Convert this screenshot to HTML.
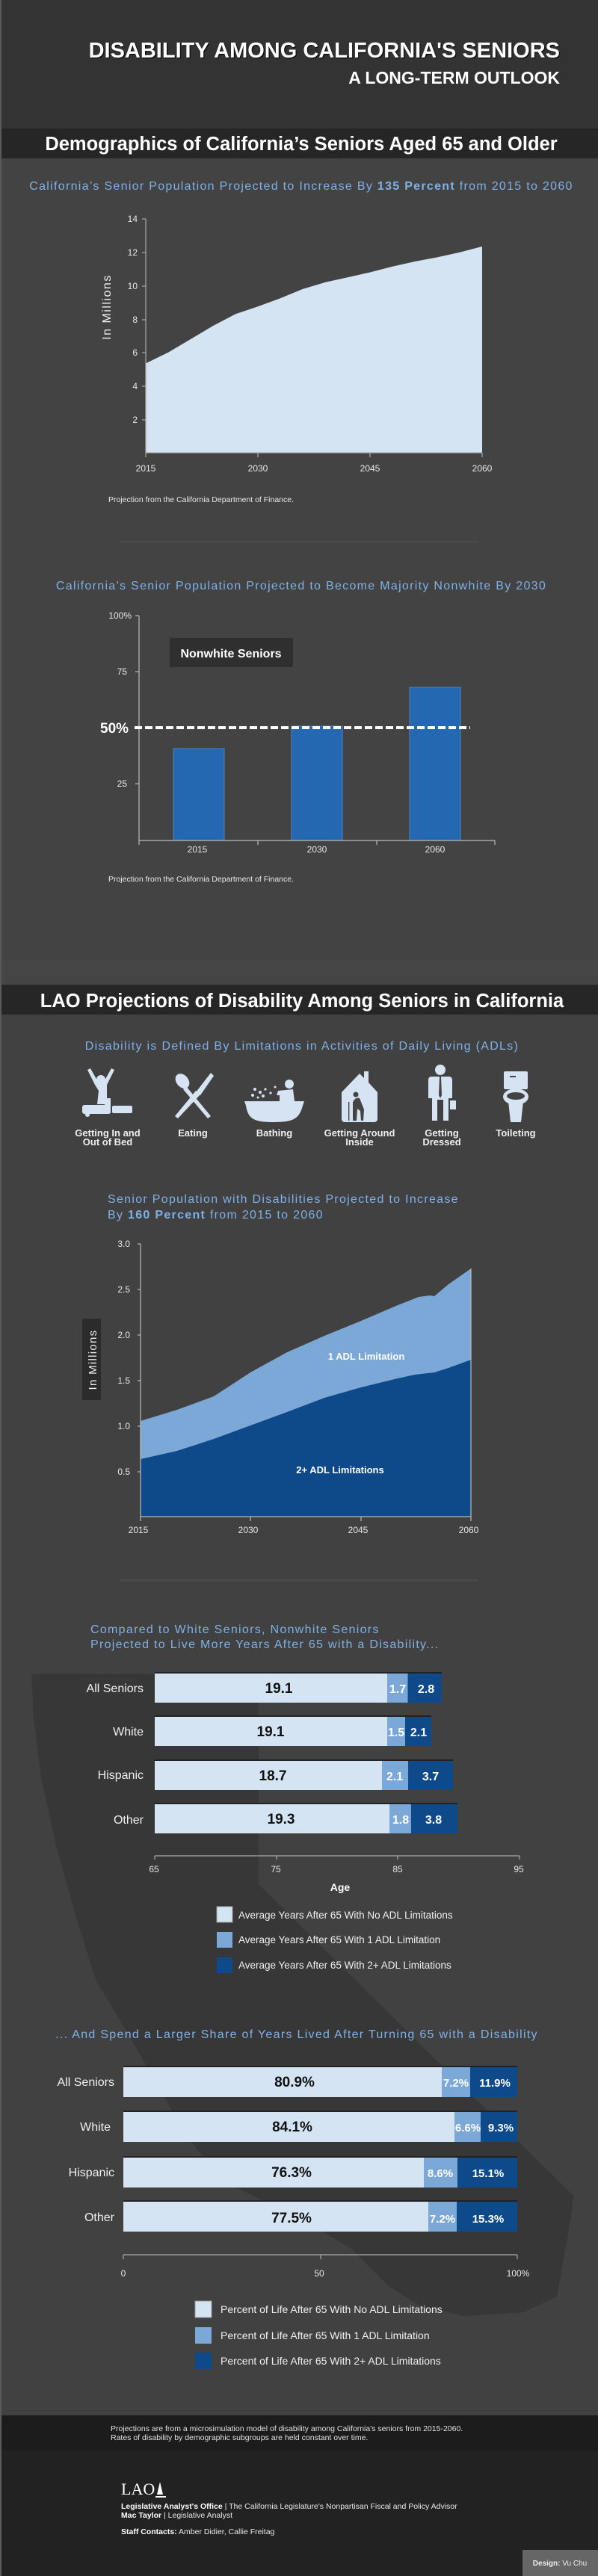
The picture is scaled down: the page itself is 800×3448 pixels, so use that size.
<!DOCTYPE html>
<html><head><meta charset="utf-8"><style>
html,body{margin:0;padding:0;background:#414141;}
svg{display:block;}
text{font-family:"Liberation Sans",sans-serif;}
.t{fill:#7fb0e6;font-size:16px;letter-spacing:1.3px;}
.ax{fill:#e8e8e8;font-size:12px;}
.lab{fill:#f0f0f0;font-size:16px;}
.v{font-size:19px;font-weight:bold;text-anchor:middle;}
.ic{fill:#d5e3f2;}
.il{fill:#eeeeee;font-size:13px;font-weight:bold;text-anchor:middle;}
</style></head><body>
<svg width="800" height="3448" viewBox="0 0 800 3448" xmlns="http://www.w3.org/2000/svg">
<!-- backgrounds -->
<rect x="0" y="0" width="800" height="3448" fill="#414141"/>
<rect x="0" y="0" width="800" height="172" fill="#333333"/>
<rect x="0" y="172" width="800" height="40" fill="#262626"/>
<rect x="0" y="212" width="800" height="1073" fill="#434343"/>
<rect x="0" y="1285" width="800" height="33" fill="#454545"/>
<rect x="0" y="1318" width="800" height="40" fill="#262626"/>
<!-- California silhouette -->
<path d="M42 2241 L346 2241 L346 2522 L768 2940 L760 2990 L745 3074 L700 3095 L620 3100 L560 3085 L520 3060 L470 3010 L420 2980 L360 2950 L300 2920 L250 2860 L210 2790 L170 2720 L128 2650 L100 2560 L75 2470 L55 2380 L45 2300 Z" fill="#373737"/>
<rect x="0" y="3233" width="800" height="47" fill="#1c1c1c"/>
<rect x="0" y="3280" width="800" height="168" fill="#222222"/>
<rect x="0" y="0" width="2" height="3448" fill="#5a5a5a"/>

<!-- header -->
<text x="749" y="77" text-anchor="end" fill="#fff" font-size="29" font-weight="bold" style="text-shadow:1px 1px 1px #000">DISABILITY AMONG CALIFORNIA'S SENIORS</text>
<text x="749" y="112" text-anchor="end" fill="#fff" font-size="23" font-weight="bold">A LONG-TERM OUTLOOK</text>
<text x="403" y="201" text-anchor="middle" fill="#fff" font-size="25.5" font-weight="bold">Demographics of California’s Seniors Aged 65 and Older</text>

<!-- chart 1 -->
<text x="403" y="254" text-anchor="middle" class="t" font-size="16" letter-spacing="1.1">California’s Senior Population Projected to Increase By <tspan font-weight="bold">135 Percent</tspan> from 2015 to 2060</text>
<path d="M195 606 L195 486.4 L225 471.8 L255 454 L285 436.1 L315 420.4 L345 410.3 L375 399.2 L405 386.9 L435 377.9 L465 371.2 L495 364.5 L525 356.7 L555 350 L585 344.4 L615 337.7 L645 329.9 L645 606 Z" fill="#d5e4f3"/>
<g stroke="#aaa" stroke-width="1.2">
<line x1="195" y1="293" x2="195" y2="606"/><line x1="195" y1="606" x2="645" y2="606"/>
<line x1="190" y1="293" x2="195" y2="293"/><line x1="190" y1="338" x2="195" y2="338"/><line x1="190" y1="383" x2="195" y2="383"/><line x1="190" y1="428" x2="195" y2="428"/><line x1="190" y1="472" x2="195" y2="472"/><line x1="190" y1="517" x2="195" y2="517"/><line x1="190" y1="562" x2="195" y2="562"/>
<line x1="195" y1="606" x2="195" y2="612"/><line x1="345" y1="606" x2="345" y2="612"/><line x1="495" y1="606" x2="495" y2="612"/><line x1="645" y1="606" x2="645" y2="612"/>
</g>
<g class="ax" text-anchor="end"><text x="184" y="297">14</text><text x="184" y="342">12</text><text x="184" y="387">10</text><text x="184" y="432">8</text><text x="184" y="476">6</text><text x="184" y="521">4</text><text x="184" y="566">2</text></g>
<g class="ax" text-anchor="middle"><text x="195" y="631">2015</text><text x="345" y="631">2030</text><text x="495" y="631">2045</text><text x="645" y="631">2060</text></g>
<text transform="translate(148,411) rotate(-90)" text-anchor="middle" fill="#eee" font-size="16" letter-spacing="1.5">In Millions</text>
<text x="145" y="672" fill="#e8e8e8" font-size="10.5">Projection from the California Department of Finance.</text>
<line x1="160" y1="725" x2="640" y2="725" stroke="#4f4f4f" stroke-width="1.5"/>

<!-- chart 2 -->
<text x="403" y="789" text-anchor="middle" class="t" font-size="16.5">California’s Senior Population Projected to Become Majority Nonwhite By 2030</text>
<rect x="232" y="1002" width="68" height="123" fill="#2368b0" stroke="#4a84c4" stroke-width="1"/>
<rect x="390" y="972" width="68" height="153" fill="#2368b0" stroke="#4a84c4" stroke-width="1"/>
<rect x="548" y="920" width="68" height="205" fill="#2368b0" stroke="#4a84c4" stroke-width="1"/>
<g stroke="#bbb" stroke-width="1.2">
<line x1="186" y1="824" x2="186" y2="1125"/><line x1="186" y1="1125" x2="662" y2="1125"/>
<line x1="181" y1="824" x2="186" y2="824"/><line x1="181" y1="899" x2="186" y2="899"/><line x1="181" y1="1049" x2="186" y2="1049"/>
<line x1="186" y1="1125" x2="186" y2="1131"/><line x1="345" y1="1125" x2="345" y2="1131"/><line x1="504" y1="1125" x2="504" y2="1131"/><line x1="662" y1="1125" x2="662" y2="1131"/>
</g>
<g class="ax" text-anchor="end"><text x="176" y="828">100%</text><text x="170" y="903">75</text><text x="170" y="1053">25</text></g>
<g class="ax" text-anchor="middle"><text x="264" y="1141">2015</text><text x="424" y="1141">2030</text><text x="582" y="1141">2060</text></g>
<line x1="180" y1="974" x2="629" y2="974" stroke="#fff" stroke-width="4" stroke-dasharray="10,4"/>
<text x="134" y="981" fill="#fff" font-size="19" font-weight="bold">50%</text>
<rect x="227" y="854" width="165" height="39" fill="#2f2f2f" rx="2"/>
<text x="309" y="880" text-anchor="middle" fill="#fff" font-size="16" font-weight="bold">Nonwhite Seniors</text>
<text x="145" y="1180" fill="#e8e8e8" font-size="10.5">Projection from the California Department of Finance.</text>

<!-- section 2 -->
<text x="404" y="1348" text-anchor="middle" fill="#fff" font-size="25.5" font-weight="bold">LAO Projections of Disability Among Seniors in California</text>
<text x="404" y="1405" text-anchor="middle" class="t">Disability is Defined By Limitations in Activities of Daily Living (ADLs)</text>

<!-- icons -->
<g class="ic">
 <!-- bed -->
 <circle cx="135" cy="1445" r="6"/>
 <path d="M117 1432 L121 1430 L131 1448 L139 1448 L149 1430 L153 1432 L143 1452 L143 1470 L148 1470 L148 1490 L140 1490 L140 1478 L130 1478 L132 1460 L127 1452 Z"/>
 <rect x="110" y="1479" width="38" height="12" rx="3"/>
 <rect x="150" y="1480" width="27" height="10" rx="2"/>
 <circle cx="117" cy="1492" r="3"/>
 <!-- eating -->
 <ellipse cx="244" cy="1447" rx="8" ry="11" transform="rotate(-40 244 1447)"/>
 <path d="M249 1454 L282 1494 L278 1497 L245 1458 Z"/>
 <path d="M282 1436 L262 1462 L268 1466 L286 1440 Z"/>
 <path d="M262 1460 L234 1494 L238 1497 L268 1465 Z"/>
 <!-- bathing -->
 <circle cx="387" cy="1451" r="6"/>
 <path d="M372 1460 L392 1458 L394 1474 L374 1474 L374 1466 L370 1466 Z"/>
 <path d="M327 1474 L407 1474 L405 1480 C400 1498 392 1502 366 1502 C340 1502 332 1498 329 1480 Z"/>
 <circle cx="341" cy="1458" r="2"/><circle cx="348" cy="1462" r="2"/><circle cx="338" cy="1466" r="2"/><circle cx="355" cy="1458" r="1.6"/><circle cx="352" cy="1467" r="2"/><circle cx="362" cy="1463" r="1.6"/><circle cx="368" cy="1455" r="1.5"/><circle cx="345" cy="1469" r="1.5"/>
 <!-- house -->
 <path d="M457 1462 L481 1437 L487 1443 L487 1434 L493 1434 L493 1449 L505 1462 L505 1498 C505 1500 503 1502 501 1502 L461 1502 C459 1502 457 1500 457 1498 Z"/>
 <!-- dressed -->
 <circle cx="589" cy="1432" r="7"/>
 <path d="M577 1441 L601 1441 Q605 1441 605 1446 L605 1470 L600 1470 L600 1500 L593 1500 L593 1472 L585 1472 L585 1500 L578 1500 L578 1470 L573 1470 L573 1446 Q573 1441 577 1441 Z"/>
 <rect x="602" y="1473" width="8" height="12"/>
 <!-- toilet -->
 <rect x="674" y="1434" width="32" height="24" rx="2"/>
 <ellipse cx="690" cy="1468" rx="17" ry="11"/>
 <path d="M680 1474 L700 1474 L697 1502 L683 1502 Z"/>
</g>
<g fill="#434343">
 <path d="M472 1500 L472 1475 Q476 1468 481 1470 L487 1485 L486 1500 L483 1500 L482 1487 L478 1484 L477 1500 Z"/>
 <circle cx="476" cy="1465" r="3.5"/>
 <rect x="466" y="1475" width="1.4" height="25"/>
 <path d="M588 1441 L590 1441 L591 1466 L589 1470 L587 1466 Z"/>
 <ellipse cx="690" cy="1467" rx="12" ry="5"/>
 <rect x="682" y="1440" width="8" height="2"/>
</g>
<g class="il">
 <text x="144" y="1521">Getting In and</text><text x="144" y="1533">Out of Bed</text>
 <text x="258" y="1521">Eating</text>
 <text x="367" y="1521">Bathing</text>
 <text x="481" y="1521">Getting Around</text><text x="481" y="1533">Inside</text>
 <text x="591" y="1521">Getting</text><text x="591" y="1533">Dressed</text>
 <text x="690" y="1521">Toileting</text>
</g>

<!-- chart 3 -->
<text x="144" y="1610" class="t">Senior Population with Disabilities Projected to Increase</text>
<text x="144" y="1631" class="t">By <tspan font-weight="bold">160 Percent</tspan> from 2015 to 2060</text>
<path d="M188 2030 L188 1902 L237 1887 L286 1869 L335 1837 L384 1810 L434 1788 L483 1768 L532 1747 L560 1736 L575 1734 L581 1735 L600 1719 L630 1698 L630 2030 Z" fill="#7ba8d7"/>
<path d="M188 2030 L188 1953 L237 1942 L286 1926 L335 1908 L384 1890 L434 1871 L483 1857 L532 1845 L555 1840 L581 1837 L600 1831 L630 1820 L630 2030 Z" fill="#0e4a8a"/>
<g stroke="#bbb" stroke-width="1.2">
<line x1="188" y1="1665" x2="188" y2="2030"/><line x1="630" y1="1698" x2="630" y2="2030"/><line x1="188" y1="2030" x2="630" y2="2030"/>
<line x1="184" y1="1665" x2="188" y2="1665"/><line x1="184" y1="1726" x2="188" y2="1726"/><line x1="184" y1="1787" x2="188" y2="1787"/><line x1="184" y1="1848" x2="188" y2="1848"/><line x1="184" y1="1909" x2="188" y2="1909"/><line x1="184" y1="1970" x2="188" y2="1970"/>
<line x1="188" y1="2030" x2="188" y2="2036"/><line x1="335" y1="2030" x2="335" y2="2036"/><line x1="483" y1="2030" x2="483" y2="2036"/><line x1="630" y1="2030" x2="630" y2="2036"/>
</g>
<g class="ax" text-anchor="end"><text x="174" y="1669">3.0</text><text x="174" y="1730">2.5</text><text x="174" y="1791">2.0</text><text x="174" y="1852">1.5</text><text x="174" y="1913">1.0</text><text x="174" y="1974">0.5</text></g>
<g class="ax" text-anchor="middle"><text x="185" y="2052">2015</text><text x="332" y="2052">2030</text><text x="479" y="2052">2045</text><text x="627" y="2052">2060</text></g>
<rect x="110" y="1765" width="25" height="109" fill="#2b2b2b" rx="2"/>
<text transform="translate(129,1820) rotate(-90)" text-anchor="middle" fill="#eee" font-size="15" letter-spacing="1.3">In Millions</text>
<text x="490" y="1820" text-anchor="middle" fill="#fff" font-size="13" font-weight="bold">1 ADL Limitation</text>
<text x="455" y="1972" text-anchor="middle" fill="#fff" font-size="13" font-weight="bold">2+ ADL Limitations</text>
<line x1="160" y1="2115" x2="640" y2="2115" stroke="#4f4f4f" stroke-width="1.5"/>

<!-- chart 4 -->
<text x="121" y="2186" class="t" letter-spacing="1">Compared to White Seniors, Nonwhite Seniors</text>
<text x="121" y="2206" class="t" letter-spacing="1">Projected to Live More Years After 65 with a Disability...</text>
<g>
<rect x="207" y="2238" width="384" height="2" fill="#222"/>
<rect x="207" y="2240" width="311" height="39" fill="#d5e4f3"/><rect x="518" y="2240" width="27.5" height="39" fill="#7ba8d7"/><rect x="545.5" y="2240" width="45.5" height="39" fill="#0e4a8a"/>
<rect x="207" y="2296" width="370" height="2" fill="#222"/>
<rect x="207" y="2298" width="311" height="39" fill="#d5e4f3"/><rect x="518" y="2298" width="24" height="39" fill="#7ba8d7"/><rect x="542" y="2298" width="35" height="39" fill="#0e4a8a"/>
<rect x="207" y="2355" width="399" height="2" fill="#222"/>
<rect x="207" y="2357" width="304" height="39" fill="#d5e4f3"/><rect x="511" y="2357" width="35" height="39" fill="#7ba8d7"/><rect x="546" y="2357" width="60" height="39" fill="#0e4a8a"/>
<rect x="207" y="2413" width="405" height="2" fill="#222"/>
<rect x="207" y="2415" width="314" height="39" fill="#d5e4f3"/><rect x="521" y="2415" width="29" height="39" fill="#7ba8d7"/><rect x="550" y="2415" width="62" height="39" fill="#0e4a8a"/>
</g>
<g class="lab" text-anchor="end"><text x="192" y="2265">All Seniors</text><text x="192" y="2323">White</text><text x="192" y="2381">Hispanic</text><text x="192" y="2441">Other</text></g>
<g class="v">
<text x="373" y="2266" fill="#111">19.1</text><text x="532" y="2266" fill="#fff" font-size="16">1.7</text><text x="570" y="2266" fill="#fff" font-size="16">2.8</text>
<text x="362" y="2324" fill="#111">19.1</text><text x="530" y="2324" fill="#fff" font-size="16">1.5</text><text x="560" y="2324" fill="#fff" font-size="16">2.1</text>
<text x="365" y="2383" fill="#111">18.7</text><text x="528" y="2383" fill="#fff" font-size="16">2.1</text><text x="576" y="2383" fill="#fff" font-size="16">3.7</text>
<text x="376" y="2441" fill="#111">19.3</text><text x="536" y="2441" fill="#fff" font-size="16">1.8</text><text x="580" y="2441" fill="#fff" font-size="16">3.8</text>
</g>
<g stroke="#aaa" stroke-width="1.2">
<line x1="207" y1="2484" x2="695" y2="2484"/>
<line x1="207" y1="2484" x2="207" y2="2489"/><line x1="370" y1="2484" x2="370" y2="2489"/><line x1="532" y1="2484" x2="532" y2="2489"/><line x1="695" y1="2484" x2="695" y2="2489"/>
</g>
<g class="ax" text-anchor="middle"><text x="206" y="2506">65</text><text x="369" y="2506">75</text><text x="532" y="2506">85</text><text x="694" y="2506">95</text></g>
<text x="455" y="2531" text-anchor="middle" fill="#fff" font-size="14" font-weight="bold">Age</text>
<rect x="290" y="2552" width="21" height="21" fill="#d5e4f3" stroke="#999"/>
<rect x="290" y="2586" width="21" height="21" fill="#7ba8d7"/>
<rect x="290" y="2620" width="21" height="21" fill="#0e4a8a"/>
<g fill="#f0f0f0" font-size="13.5"><text x="319" y="2568">Average Years After 65 With No ADL Limitations</text><text x="319" y="2601">Average Years After 65 With 1 ADL Limitation</text><text x="319" y="2635">Average Years After 65 With 2+ ADL Limitations</text></g>

<!-- chart 5 -->
<text x="397" y="2728" text-anchor="middle" class="t" letter-spacing="1.5">... And Spend a Larger Share of Years Lived After Turning 65 with a Disability</text>
<g>
<rect x="165" y="2765" width="527" height="2" fill="#222"/>
<rect x="165" y="2767" width="426" height="40" fill="#d5e4f3"/><rect x="591" y="2767" width="38" height="40" fill="#7ba8d7"/><rect x="629" y="2767" width="63" height="40" fill="#0e4a8a"/>
<rect x="165" y="2825" width="527" height="2" fill="#222"/>
<rect x="165" y="2827" width="443" height="40" fill="#d5e4f3"/><rect x="608" y="2827" width="35" height="40" fill="#7ba8d7"/><rect x="643" y="2827" width="49" height="40" fill="#0e4a8a"/>
<rect x="165" y="2886" width="527" height="2" fill="#222"/>
<rect x="165" y="2888" width="402" height="40" fill="#d5e4f3"/><rect x="567" y="2888" width="45" height="40" fill="#7ba8d7"/><rect x="612" y="2888" width="80" height="40" fill="#0e4a8a"/>
<rect x="165" y="2945" width="527" height="2" fill="#222"/>
<rect x="165" y="2947" width="408" height="40" fill="#d5e4f3"/><rect x="573" y="2947" width="38" height="40" fill="#7ba8d7"/><rect x="611" y="2947" width="81" height="40" fill="#0e4a8a"/>
</g>
<g class="lab" text-anchor="end"><text x="153" y="2792">All Seniors</text><text x="148" y="2852">White</text><text x="153" y="2913">Hispanic</text><text x="153" y="2973">Other</text></g>
<g class="v">
<text x="394" y="2793" fill="#111">80.9%</text><text x="610" y="2793" fill="#fff" font-size="15">7.2%</text><text x="662" y="2793" fill="#fff" font-size="15">11.9%</text>
<text x="391" y="2853" fill="#111">84.1%</text><text x="626" y="2853" fill="#fff" font-size="15">6.6%</text><text x="670" y="2853" fill="#fff" font-size="15">9.3%</text>
<text x="390" y="2914" fill="#111">76.3%</text><text x="589" y="2914" fill="#fff" font-size="15">8.6%</text><text x="653" y="2914" fill="#fff" font-size="15">15.1%</text>
<text x="390" y="2975" fill="#111">77.5%</text><text x="592" y="2975" fill="#fff" font-size="15">7.2%</text><text x="653" y="2975" fill="#fff" font-size="15">15.3%</text>
</g>
<g stroke="#aaa" stroke-width="1.2">
<line x1="165" y1="3018" x2="692" y2="3018"/>
<line x1="165" y1="3018" x2="165" y2="3024"/><line x1="429" y1="3018" x2="429" y2="3024"/><line x1="692" y1="3018" x2="692" y2="3024"/>
</g>
<g class="ax" text-anchor="middle" font-size="13"><text x="165" y="3047">0</text><text x="427" y="3047">50</text><text x="693" y="3047">100%</text></g>
<rect x="261" y="3080" width="22" height="22" fill="#d5e4f3" stroke="#999"/>
<rect x="261" y="3115" width="22" height="22" fill="#7ba8d7"/>
<rect x="261" y="3149" width="22" height="22" fill="#0e4a8a"/>
<g fill="#f0f0f0" font-size="14"><text x="295" y="3096">Percent of Life After 65 With No ADL Limitations</text><text x="295" y="3131">Percent of Life After 65 With 1 ADL Limitation</text><text x="295" y="3165">Percent of Life After 65 With 2+ ADL Limitations</text></g>

<!-- footer -->
<g fill="#e0e0e0" font-size="10.5"><text x="148" y="3254">Projections are from a microsimulation model of disability among California's seniors from 2015-2060.</text><text x="148" y="3266">Rates of disability by demographic subgroups are held constant over time.</text></g>
<text x="162" y="3339" fill="#fff" font-size="22" font-family="Liberation Serif, serif" style="font-family:'Liberation Serif',serif">LAO</text>
<path d="M210 3339 L214 3322 L218 3339 Z M208 3341 L222 3341 L222 3343 L208 3343 Z" fill="#fff"/>
<g fill="#e8e8e8" font-size="10.5">
<text x="162" y="3358"><tspan font-weight="bold" fill="#fff">Legislative Analyst's Office</tspan> | The California Legislature's Nonpartisan Fiscal and Policy Advisor</text>
<text x="162" y="3370"><tspan font-weight="bold" fill="#fff">Mac Taylor</tspan> | Legislative Analyst</text>
<text x="162" y="3392"><tspan font-weight="bold" fill="#fff">Staff Contacts:</tspan> Amber Didier, Callie Freitag</text>
</g>
<rect x="699" y="3413" width="101" height="35" fill="#666"/>
<text x="749" y="3434" text-anchor="middle" fill="#eee" font-size="10"><tspan font-weight="bold">Design:</tspan> Vu Chu</text>
</svg>
</body></html>
